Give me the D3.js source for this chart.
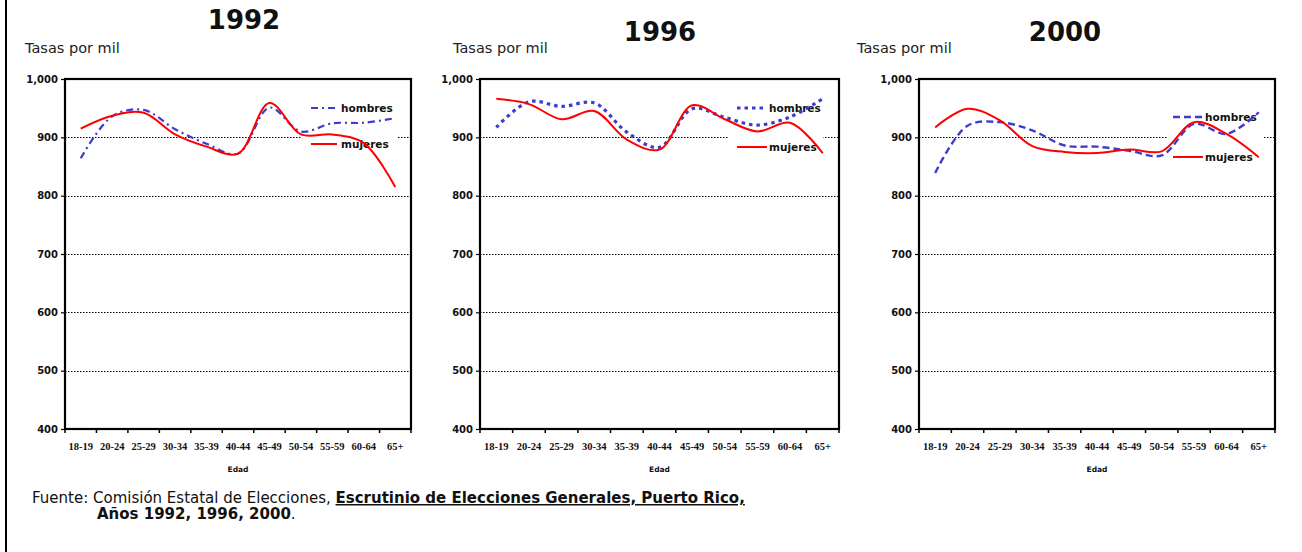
<!DOCTYPE html>
<html>
<head>
<meta charset="utf-8">
<script src="https://cdn.jsdelivr.net/npm/d3@7"></script>
<style>
  body { margin: 0; background: #fff; }
  svg { display: block; }
</style>
</head>
<body>
<svg id="chart" width="1302" height="552"></svg>
<script>
// Age groups on the x axis
const ageGroups = ["18-19", "20-24", "25-29", "30-34", "35-39", "40-44", "45-49", "50-54", "55-59", "60-64", "65+"];
// Y axis ticks (rate per thousand)
const yTickValues = [400, 500, 600, 700, 800, 900, 1000];
const gridValues = [500, 600, 700, 800, 900];
const years = ["1992", "1996", "2000"];
const seriesNames = ["hombres", "mujeres"];

// Participation rates per thousand, by sex and age group
const hombres1992 = [864, 936, 947, 914, 889, 872, 951, 910, 924, 925, 933];
const mujeres1992 = [915, 937, 942, 905, 884, 872, 959, 905, 905, 890, 815];
const hombres1996 = [917, 961, 953, 959, 909, 883, 949, 934, 921, 935, 966];
const mujeres1996 = [966, 957, 931, 945, 896, 879, 955, 931, 910, 925, 873];
const hombres2000 = [839, 920, 926, 912, 886, 884, 877, 869, 923, 906, 943];
const mujeres2000 = [917, 949, 929, 885, 875, 873, 879, 876, 926, 906, 866];

const hombresByYear = [hombres1992, hombres1996, hombres2000];
const mujeresByYear = [mujeres1992, mujeres1996, mujeres2000];

const BLUE = "#3c3cd0";
const RED = "#ff0000";
const SANS = "'DejaVu Sans', Verdana, sans-serif";
const SERIF = "'Liberation Serif', 'Times New Roman', serif";

// Panel geometry and per-panel legend styling
const panels = [
  { x0: 65,  x1: 411,  titleX: 244,  titleY: 29, tasasX: 25,
    legLine: [311, 337], legTextX: 341, legYH: 108, legYM: 144, legBox: [302, 397],
    hDash: "7,4,2,4", hWidth: 2.2 },
  { x0: 480, x1: 839,  titleX: 660,  titleY: 41, tasasX: 453,
    legLine: [737, 767], legTextX: 769, legYH: 108, legYM: 147, legBox: [728, 823],
    hDash: "3.5,4", hWidth: 3.2 },
  { x0: 919, x1: 1275, titleX: 1065, titleY: 41, tasasX: 857,
    legLine: [1173, 1203], legTextX: 1205, legYH: 117, legYM: 157, legBox: [1168, 1263],
    hDash: "7,4", hWidth: 2.4 }
];

const svg = d3.select("#chart");
const plotTop = 79, plotBottom = 429;

// Left page border
svg.append("line")
  .attr("x1", 6).attr("x2", 6).attr("y1", 0).attr("y2", 552)
  .attr("stroke", "#000").attr("stroke-width", 2);

panels.forEach((p, i) => {
  const g = svg.append("g");
  const x = d3.scaleBand().domain(ageGroups).range([p.x0, p.x1]);
  const y = d3.scaleLinear().domain([400, 1000]).range([plotBottom, plotTop]);
  const cx = d => x(d) + x.bandwidth() / 2;

  // Year title
  g.append("text")
    .attr("x", p.titleX).attr("y", p.titleY)
    .attr("text-anchor", "middle")
    .attr("font-family", SANS).attr("font-weight", "bold").attr("font-size", 26)
    .attr("fill", "#111")
    .text(years[i]);

  // Y axis caption
  g.append("text")
    .attr("x", p.tasasX).attr("y", 53)
    .attr("font-family", SANS).attr("font-size", 14.5)
    .attr("fill", "#222")
    .text("Tasas por mil");

  // Dotted gridlines
  g.selectAll(".grid").data(gridValues).enter().append("line")
    .attr("x1", p.x0).attr("x2", p.x1)
    .attr("y1", d => Math.round(y(d)) + 0.5).attr("y2", d => Math.round(y(d)) + 0.5)
    .attr("stroke", "#000").attr("stroke-width", 1)
    .attr("stroke-dasharray", "1.5,1.5");

  // Legend background
  g.append("rect")
    .attr("x", p.legBox[0]).attr("y", p.legYH - 12)
    .attr("width", p.legBox[1] - p.legBox[0])
    .attr("height", p.legYM - p.legYH + 22)
    .attr("fill", "#fff");

  // Legend entries
  const legY = [p.legYH, p.legYM];
  seriesNames.forEach((name, k) => {
    g.append("line")
      .attr("x1", p.legLine[0]).attr("x2", p.legLine[1])
      .attr("y1", legY[k]).attr("y2", legY[k])
      .attr("stroke", k === 0 ? BLUE : RED)
      .attr("stroke-width", k === 0 ? p.hWidth : 2)
      .attr("stroke-dasharray", k === 0 ? p.hDash : null);
    g.append("text")
      .attr("x", p.legTextX).attr("y", legY[k] + 4)
      .attr("font-family", SANS).attr("font-weight", "bold").attr("font-size", 10.5)
      .attr("fill", "#111")
      .text(name);
  });

  // Smoothed series lines
  const line = d3.line()
    .x((d, j) => cx(ageGroups[j]))
    .y(d => y(d))
    .curve(d3.curveCatmullRom.alpha(0.5));

  g.append("path").datum(hombresByYear[i])
    .attr("d", line).attr("fill", "none")
    .attr("stroke", BLUE).attr("stroke-width", p.hWidth)
    .attr("stroke-dasharray", p.hDash);
  g.append("path").datum(mujeresByYear[i])
    .attr("d", line).attr("fill", "none")
    .attr("stroke", RED).attr("stroke-width", 2);

  // Plot frame
  g.append("rect")
    .attr("x", p.x0).attr("y", plotTop)
    .attr("width", p.x1 - p.x0).attr("height", plotBottom - plotTop)
    .attr("fill", "none").attr("stroke", "#000").attr("stroke-width", 2.2);

  // Y axis ticks and labels
  const yAxis = d3.axisLeft(y).tickValues(yTickValues).tickSize(4).tickPadding(3)
    .tickFormat(d3.format(","));
  const ya = g.append("g").attr("transform", `translate(${p.x0},0)`).call(yAxis);
  ya.select(".domain").remove();
  ya.selectAll(".tick line").attr("stroke", "#000").attr("stroke-width", 1.2);
  ya.selectAll(".tick text")
    .attr("font-family", SANS).attr("font-weight", "bold").attr("font-size", 10)
    .attr("fill", "#111");

  // X axis: tick marks at category boundaries, labels centred in each band
  const bounds = ageGroups.map(d => x(d)).concat([p.x1]);
  g.selectAll(".xtick").data(bounds).enter().append("line")
    .attr("x1", d => d).attr("x2", d => d)
    .attr("y1", plotBottom).attr("y2", plotBottom + 4)
    .attr("stroke", "#000").attr("stroke-width", 1.5);
  g.selectAll(".xlab").data(ageGroups).enter().append("text")
    .attr("x", d => cx(d)).attr("y", 450)
    .attr("text-anchor", "middle")
    .attr("font-family", SERIF).attr("font-weight", "bold").attr("font-size", 10.5)
    .attr("fill", "#111")
    .text(d => d);

  // X axis caption
  g.append("text")
    .attr("x", (p.x0 + p.x1) / 2).attr("y", 472)
    .attr("text-anchor", "middle")
    .attr("font-family", SANS).attr("font-weight", "bold").attr("font-size", 7.5)
    .attr("fill", "#111")
    .text("Edad");
});

// Source note
const src = svg.append("text")
  .attr("x", 32).attr("y", 503)
  .attr("font-family", SANS).attr("font-size", 15).attr("fill", "#111");
src.append("tspan").text("Fuente:  Comisión Estatal de Elecciones, ");
src.append("tspan").attr("font-weight", "bold").attr("text-decoration", "underline")
  .text("Escrutinio de Elecciones Generales, Puerto Rico,");
const src2 = svg.append("text")
  .attr("x", 97).attr("y", 519)
  .attr("font-family", SANS).attr("font-size", 15).attr("fill", "#111");
src2.append("tspan").attr("font-weight", "bold").text("Años 1992, 1996, 2000");
src2.append("tspan").text(".");
</script>
</body>
</html>
